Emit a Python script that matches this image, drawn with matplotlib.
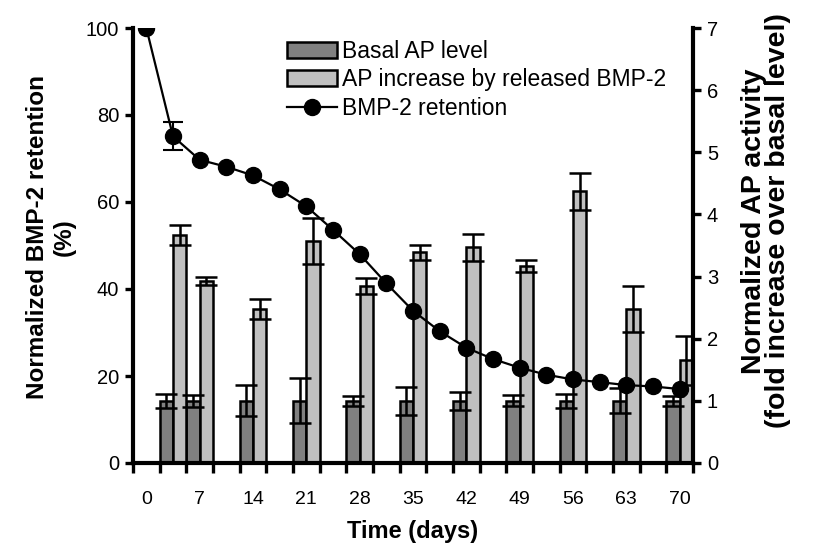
import matplotlib
matplotlib.use("Agg")
import matplotlib.pyplot as plt
import numpy as np

plt.rcParams['font.family'] = ['Liberation Sans', 'DejaVu Sans']

# ---- data ----
days = [0, 3.5, 7, 10.5, 14, 17.5, 21, 24.5, 28, 31.5, 35, 38.5, 42, 45.5,
        49, 52.5, 56, 59.5, 63, 66.5, 70]
retention = [100, 75.1, 69.7, 68.1, 66.1, 62.9, 59.0, 53.6, 48.0, 41.3, 35.0,
             30.3, 26.5, 23.9, 21.9, 20.3, 19.2, 18.6, 17.9, 17.6, 17.0]
retention_err = [0, 3.2, 0, 0, 0, 0, 0, 0, 0, 0, 0,
                 0, 0, 0, 0, 0, 0, 0, 0, 0, 0]

ap_days = [3.5, 7, 14, 21, 28, 35, 42, 49, 56, 63, 70]
basal = [1.0, 1.0, 1.0, 1.0, 1.0, 1.0, 1.0, 1.0, 1.0, 1.0, 1.0]
basal_err = [0.11, 0.10, 0.25, 0.36, 0.08, 0.22, 0.15, 0.09, 0.11, 0.20, 0.08]
ap_increase = [3.67, 2.93, 2.48, 3.58, 2.85, 3.39, 3.47, 3.17, 4.37, 2.48, 1.65]
ap_err = [0.16, 0.065, 0.16, 0.37, 0.135, 0.125, 0.22, 0.10, 0.30, 0.37, 0.39]

xtick_days = [0, 7, 14, 21, 28, 35, 42, 49, 56, 63, 70]

# ---- figure ----
W, H = 818, 555
fig = plt.figure(figsize=(W / 100, H / 100), dpi=100)
left, right, bottom, top = 133, 693, 463, 28
ax = fig.add_axes([left / W, 1 - bottom / H, (right - left) / W, (bottom - top) / H])
ax2 = ax.twinx()
ax.set_zorder(ax2.get_zorder() + 1)
ax.patch.set_visible(False)

pos = {d: i for i, d in enumerate(days)}
xi = np.arange(len(days))
ap_x = np.array([pos[d] for d in ap_days])

dark = '#808080'
light = '#c0c0c0'
bw = 0.5
lw_edge = 1.8
ekw = dict(ecolor='black', elinewidth=1.8, capsize=8, capthick=1.8)

b1 = ax2.bar(ap_x - bw / 2, basal, width=bw, color=dark, edgecolor='black',
             linewidth=lw_edge, yerr=basal_err, error_kw=ekw, label='Basal AP level')
b2 = ax2.bar(ap_x + bw / 2, ap_increase, width=bw, color=light, edgecolor='black',
             linewidth=lw_edge, yerr=ap_err, error_kw=ekw,
             label='AP increase by released BMP-2')

err = np.array(retention_err, dtype=float)
ax.errorbar(xi, retention, yerr=np.where(err > 0, err, np.nan), fmt='none',
            ecolor='black', elinewidth=1.5, capsize=7, capthick=1.5, zorder=3)
ln, = ax.plot(xi, retention, '-', color='black', lw=1.6, marker='o',
              markersize=11.5, markerfacecolor='black', markeredgecolor='black',
              zorder=4, label='BMP-2 retention')

ax.set_xlim(-0.5, len(days) - 0.5)
ax.set_ylim(0, 100)
ax2.set_ylim(0, 7)

# x ticks at category boundaries, labels at every other category
ax.set_xticks(np.arange(-0.5, len(days) + 0.5, 1.0))
ax.set_xticklabels([])
ax.set_xticks([pos[d] for d in xtick_days], [str(d) for d in xtick_days], minor=True)
ax.tick_params(axis='x', which='major', direction='out', length=7, width=2.4)
ax.tick_params(axis='x', which='minor', length=0, pad=20, labelsize=14)

ax.set_yticks([0, 20, 40, 60, 80, 100])
ax.tick_params(axis='y', direction='out', length=6, width=2.4, labelsize=14.5, pad=4)
ax2.set_yticks(range(0, 8))
ax2.tick_params(axis='y', direction='out', length=6, width=2.4, labelsize=14.5, pad=4)

for s in ['top', 'right']:
    ax.spines[s].set_visible(False)
for s in ['top', 'left', 'bottom']:
    ax2.spines[s].set_visible(False)
ax.spines['left'].set_linewidth(3)
ax.spines['bottom'].set_linewidth(3)
ax2.spines['right'].set_linewidth(3)

ax.set_xlabel('Time (days)', fontsize=17, fontweight='bold', labelpad=9)
ax.set_ylabel('Normalized BMP-2 retention\n(%)', fontsize=17.5, fontweight='bold',
              linespacing=1.2)
ax.yaxis.set_label_coords((76 - left) / (right - left), (bottom - 237) / (bottom - top))
ax2.set_ylabel('Normalized AP activity\n(fold increase over basal level)', fontsize=20.5,
               fontweight='bold', linespacing=0.9)
ax2.yaxis.set_label_coords((741 - left) / (right - left), (bottom - 221) / (bottom - top))

leg = ax.legend([b1, b2, ln], ['Basal AP level', 'AP increase by released BMP-2',
                               'BMP-2 retention'],
                loc='upper left', bbox_to_anchor=((273 - left) / (right - left), 1.005),
                frameon=False, fontsize=16.5, handlelength=2.2, handleheight=0.7,
                handletextpad=0.2, labelspacing=0.25, borderaxespad=0.2)

fig.savefig('out.png', dpi=100)
